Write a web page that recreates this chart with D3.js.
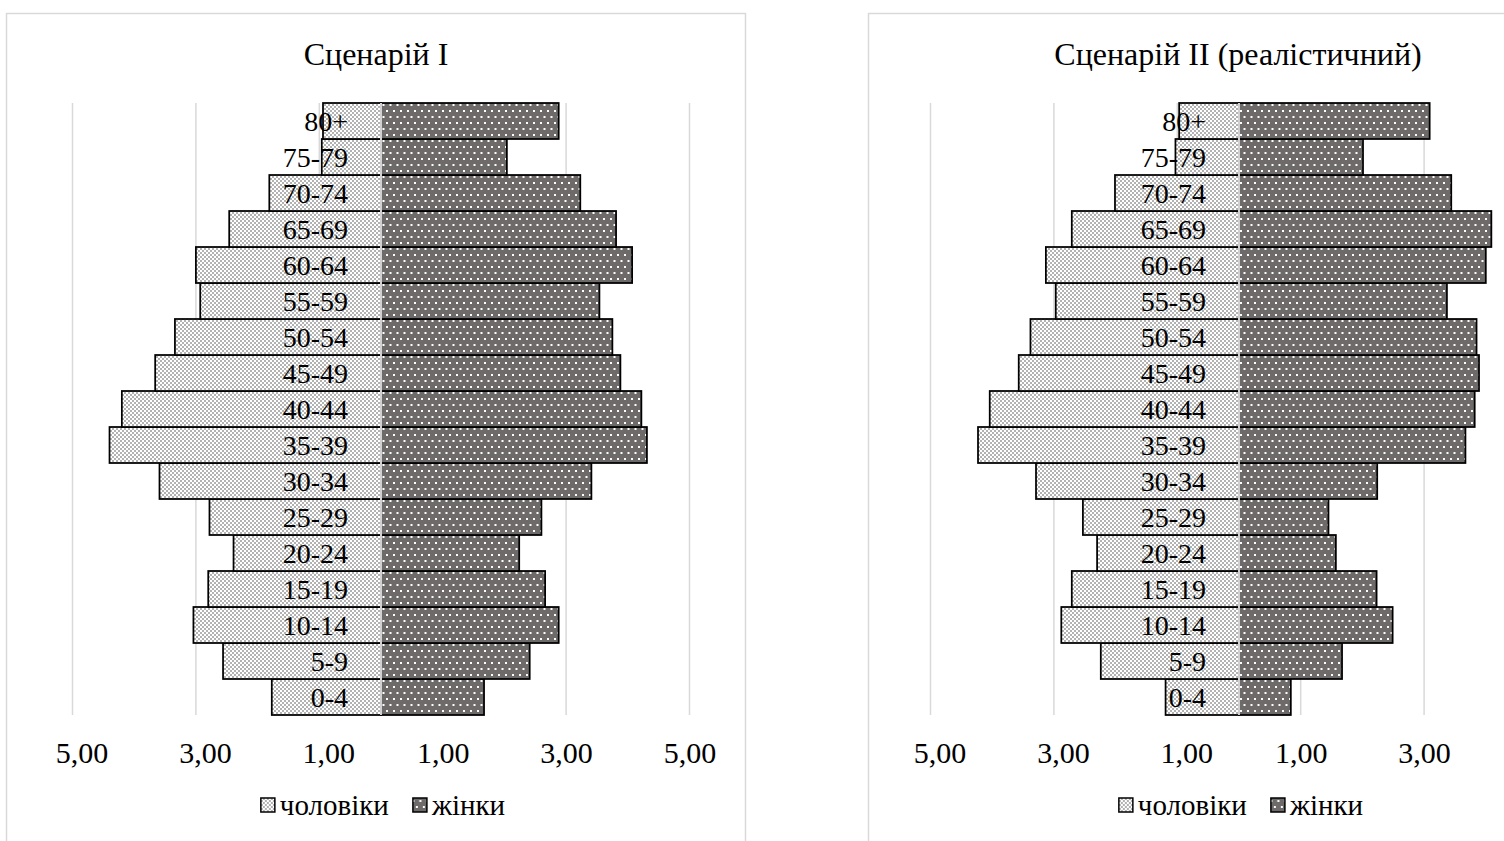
<!DOCTYPE html>
<html>
<head>
<meta charset="utf-8">
<script src="https://cdn.jsdelivr.net/npm/d3@7"></script>
<style>
  body { margin: 0; background: #fff; }
  svg text { font-family: "Liberation Serif", "Times New Roman", serif; fill: #000; }
</style>
</head>
<body>
<svg id="chart" width="1504" height="841"></svg>
<script>
// вікові групи, знизу вгору
const ageGroups = ['0-4', '5-9', '10-14', '15-19', '20-24', '25-29', '30-34', '35-39',
  '40-44', '45-49', '50-54', '55-59', '60-64', '65-69', '70-74', '75-79', '80+']

// Сценарій I
const men1 = [1.77, 2.56, 3.04, 2.80, 2.39, 2.78, 3.59, 4.40, 4.20, 3.66, 3.34, 2.93, 3.00, 2.46, 1.81, 0.96, 0.94]
const women1 = [1.67, 2.41, 2.88, 2.66, 2.24, 2.60, 3.41, 4.31, 4.22, 3.88, 3.75, 3.54, 4.07, 3.81, 3.23, 2.04, 2.88]

// Сценарій II (реалістичний)
const men2 = [1.19, 2.24, 2.88, 2.71, 2.30, 2.53, 3.29, 4.23, 4.04, 3.57, 3.38, 2.97, 3.13, 2.71, 2.01, 1.03, 0.97]
const women2 = [0.84, 1.67, 2.49, 2.23, 1.57, 1.45, 2.24, 3.67, 3.82, 3.89, 3.85, 3.37, 4.00, 4.09, 3.44, 2.01, 3.09]

const tickValues = [-5, -3, -1, 1, 3, 5]
const titles = ['Сценарій I', 'Сценарій II (реалістичний)']
const legendLabels = ['чоловіки', 'жінки']

const W = 1504
const svg = d3.select('#chart')

//Візерунки заливки як в Excel
const defs = svg.append('defs')
const menPat = defs.append('pattern').attr('id', 'men-fill')
  .attr('patternUnits', 'userSpaceOnUse').attr('width', 4).attr('height', 4)
menPat.append('rect').attr('width', 4).attr('height', 4).attr('fill', '#fff')
menPat.append('rect').attr('width', 2).attr('height', 2).attr('fill', '#b2b2b2')
menPat.append('rect').attr('x', 2).attr('y', 2).attr('width', 2).attr('height', 2).attr('fill', '#b2b2b2')

const womenPat = defs.append('pattern').attr('id', 'women-fill')
  .attr('patternUnits', 'userSpaceOnUse').attr('width', 7).attr('height', 12)
womenPat.append('rect').attr('width', 7).attr('height', 12).attr('fill', '#6e6a6a')
womenPat.append('rect').attr('x', 1).attr('y', 2).attr('width', 2).attr('height', 2).attr('fill', '#fff')
womenPat.append('rect').attr('x', 4.5).attr('y', 8).attr('width', 2).attr('height', 2).attr('fill', '#fff')

const fmt = v => d3.format('.2f')(Math.abs(v)).replace('.', ',')

function drawPyramid (frameX, center, title, men, women) {
  const g = svg.append('g')
  const halfSpan = 308.5

  // рамка діаграми
  g.append('rect')
    .attr('x', frameX + 0.5).attr('y', 13.5)
    .attr('width', 739).attr('height', 900)
    .attr('fill', '#fff').attr('stroke', '#d9d9d9').attr('stroke-width', 1.5)

  const x = d3.scaleLinear().domain([-5, 5]).range([center - halfSpan, center + halfSpan])
  const y = d3.scaleBand().domain(ageGroups.slice().reverse()).range([103, 715]).padding(0)

  g.append('text')
    .attr('x', frameX + 370).attr('y', 65)
    .attr('text-anchor', 'middle').attr('font-size', 32)
    .text(title)

  // сітка
  g.append('g').selectAll('line').data(tickValues).join('line')
    .attr('x1', d => x(d)).attr('x2', d => x(d))
    .attr('y1', 103).attr('y2', 715)
    .attr('stroke', '#d9d9d9').attr('stroke-width', 1.5)

  const rows = ageGroups.map((a, i) => ({ age: a, m: men[i], w: women[i] }))

  g.append('g').selectAll('rect').data(rows).join('rect')
    .attr('x', d => x(-d.m)).attr('y', d => y(d.age))
    .attr('width', d => x(0) - x(-d.m)).attr('height', y.bandwidth())
    .attr('fill', 'url(#men-fill)').attr('stroke', '#000').attr('stroke-width', 1.75)

  g.append('g').selectAll('rect').data(rows).join('rect')
    .attr('x', x(0)).attr('y', d => y(d.age))
    .attr('width', d => x(d.w) - x(0)).attr('height', y.bandwidth())
    .attr('fill', 'url(#women-fill)').attr('stroke', '#000').attr('stroke-width', 1.75)

  // вертикальна вісь
  g.append('line')
    .attr('x1', x(0)).attr('x2', x(0)).attr('y1', 103).attr('y2', 715)
    .attr('stroke', '#d0d0d0').attr('stroke-width', 2)

  g.append('g').selectAll('text').data(rows).join('text')
    .attr('x', x(0) - 33).attr('y', d => y(d.age) + y.bandwidth() / 2)
    .attr('dy', '0.35em').attr('text-anchor', 'end').attr('font-size', 28)
    .text(d => d.age)

  // підписи осі, тільки ті що влазять у кадр
  const shown = tickValues.filter(t => x(t) + 30 < W)
  const axis = g.append('g')
    .attr('transform', 'translate(0,734)')
    .call(d3.axisBottom(x).tickValues(shown).tickSize(0).tickPadding(0).tickFormat(fmt))
  axis.select('.domain').remove()
  axis.selectAll('text')
    .attr('font-size', 30).attr('font-family', null).attr('fill', '#000')
    .attr('dy', '0.95em')
    .attr('dx', d => d < 0 ? 9 : 0)

  // легенда
  const leg = g.append('g')
  let lx = 0
  legendLabels.forEach((lab, i) => {
    leg.append('rect')
      .attr('x', lx).attr('y', 798).attr('width', 14).attr('height', 14)
      .attr('fill', i === 0 ? 'url(#men-fill)' : 'url(#women-fill)')
      .attr('stroke', '#000').attr('stroke-width', 1.5)
    const t = leg.append('text')
      .attr('x', lx + 19).attr('y', 815).attr('font-size', 29)
      .text(lab)
    lx += 19 + t.node().getComputedTextLength() + 24
  })
  const legW = lx - 24
  leg.attr('transform', 'translate(' + (center + 2 - legW / 2) + ',0)')
}

drawPyramid(6, 381, titles[0], men1, women1)
drawPyramid(868, 1239, titles[1], men2, women2)
</script>
</body>
</html>
